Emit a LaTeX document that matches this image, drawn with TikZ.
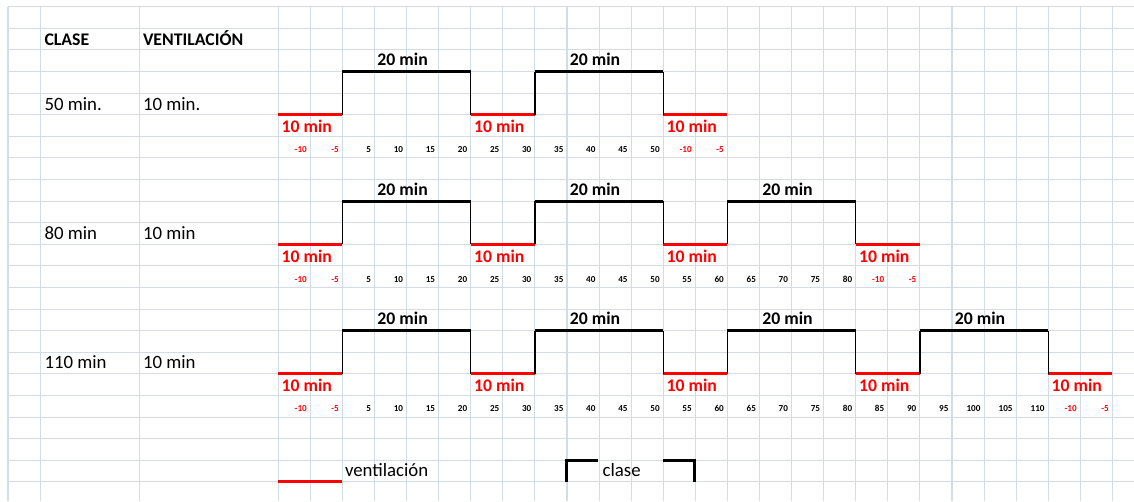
\documentclass[tikz,border=0pt]{standalone}
\usepackage{fontspec}
\setmainfont{Carlito}
\usetikzlibrary{positioning}
\definecolor{rejilla}{RGB}{212,218,230}

\begin{document}
\begin{tikzpicture}
  [x=0.02cm,y=-0.02cm,every node/.style={inner sep=0pt,outer sep=0pt}]

  \tikzstyle{rejilla} = [draw=rejilla, line width=0.6pt]
  \tikzstyle{vent}    = [draw=red, line width=1.7pt]
  \tikzstyle{alto}    = [draw=black, line width=1.7pt]
  \tikzstyle{flanco}  = [draw=black, line width=0.8pt]
  \tikzstyle{texto}   = [anchor=base west, font=\fontsize{10.7}{12}\selectfont]
  \tikzstyle{titulo}  = [anchor=base west, font=\fontsize{10.1}{12}\selectfont\bfseries]
  \tikzstyle{minred}  = [titulo, text=red]
  \tikzstyle{minnegro}= [anchor=base, font=\fontsize{10.1}{12}\selectfont\bfseries]
  \tikzstyle{marca}   = [anchor=base east, font=\fontsize{5.2}{6}\selectfont\bfseries]

  \useasboundingbox (0,0) rectangle (1134,501);

  % cuadricula de la hoja
  \foreach \n in {-1,...,21}
    \draw[rejilla] (8,{28.3+21.6*\n}) -- (1134,{28.3+21.6*\n});
  \foreach \xc in {40.7,139.3}
    \draw[rejilla] (\xc,6.7) -- (\xc,501);
  \foreach \k in {0,...,26}
    \draw[rejilla] ({278.3+32.08*\k},6.7) -- ({278.3+32.08*\k},501);
  \draw[rejilla, line width=1pt] (8,6.7) -- (8,501);

  % encabezados
  \node[titulo] (clase) at (44.5,45) {CLASE};
  \node[titulo] (vent)  at (143,45)  {VENTILACIÓN};

  \node[texto] (c1) at (44.5,110)   {50 min.};
  \node[texto] (v1) at (143,110)    {10 min.};
  \node[texto] (c2) at (44.5,239.2) {80 min};
  \node[texto] (v2) at (143,239.2)  {10 min};
  \node[texto] (c3) at (44.5,368.8) {110 min};
  \node[texto] (v3) at (143,368.8)  {10 min};

  % ondas: fila / nivel alto / nivel bajo / pulsos
  \foreach \fila/\yalto/\ybajo/\pulsos in {1/71.5/114.7/2, 2/201.1/244.3/3, 3/330.7/373.9/4} {
    \pgfmathtruncatemacro\ultimo{6*\pulsos-1}
    \pgfmathtruncatemacro\fin{6*\pulsos}
    \foreach \i in {0,...,\pulsos} {
      \pgfmathsetmacro\xa{278.3+6*\i*32.08}
      \pgfmathsetmacro\xb{278.3+(6*\i+2)*32.08}
      \draw[vent] (\xa,\ybajo) -- (\xb,\ybajo);
      \node[minred] (r-\fila-\i) at (\xa+3.4,\ybajo+18) {10 min};
    }
    \foreach \i in {1,...,\pulsos} {
      \pgfmathsetmacro\xa{278.3+(6*\i-4)*32.08}
      \pgfmathsetmacro\xb{278.3+6*\i*32.08}
      \draw[flanco] (\xa,\ybajo) -- (\xa,\yalto);
      \draw[flanco] (\xb,\yalto) -- (\xb,\ybajo);
      \draw[alto] (\xa,\yalto) -- (\xb,\yalto);
      \node[minnegro] (n-\fila-\i) at ({(\xa+\xb)/2-4},\yalto-5.8) {20 min};
    }
    % escala de minutos
    \node[marca, text=red] (m-\fila-a) at (278.3+32.08-3.6,\ybajo+38) {-10};
    \node[marca, text=red] (m-\fila-b) at (278.3+2*32.08-3.6,\ybajo+38) {-5};
    \foreach \k in {2,...,\ultimo} {
      \pgfmathtruncatemacro\valor{5*(\k-1)}
      \node[marca] (m-\fila-\k) at ({278.3+(\k+1)*32.08-3.6},\ybajo+38) {\valor};
    }
    \node[marca, text=red] (m-\fila-y) at ({278.3+(\fin+1)*32.08-3.6},\ybajo+38) {-10};
    \node[marca, text=red] (m-\fila-z) at ({278.3+(\fin+2)*32.08-3.6},\ybajo+38) {-5};
  }

  % leyenda
  \draw[vent] (278.3,481.9) -- (342.4,481.9);
  \node[texto] (ley-v) at (345,476) {ventilación};
  \draw[alto] (566.3,481.9) -- (566.3,460.3) -- (598.4,460.3);
  \draw[alto] (662.6,460.3) -- (694.7,460.3) -- (694.7,481.9);
  \node[texto] (ley-c) at (602.7,476) {clase};
\end{tikzpicture}
\end{document}
